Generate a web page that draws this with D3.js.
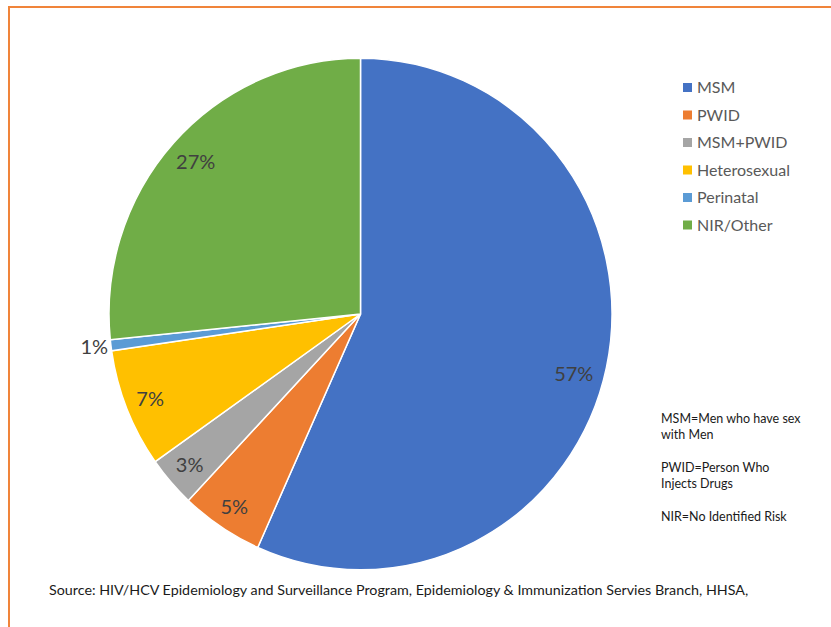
<!DOCTYPE html>
<html>
<head>
<meta charset="utf-8">
<script src="https://cdn.jsdelivr.net/npm/d3@7"></script>
<style>
  body { margin: 0; background: #fff; }
  svg { display: block; font-family: Lato, "Open Sans", sans-serif; }
</style>
</head>
<body>
<div id="chart"></div>
<script>
// Risk categories and their shares (%)
const categories = ['MSM', 'PWID', 'MSM+PWID', 'Heterosexual', 'Perinatal', 'NIR/Other'];
const shares = [56.7, 5.3, 3.2, 7.5, 0.7, 26.6];
const shareLabels = ['57%', '5%', '3%', '7%', '1%', '27%'];
const colors = ['#4472C4', '#ED7D31', '#A5A5A5', '#FFC000', '#5B9BD5', '#70AD47'];
const notes = ['MSM=Men who have sex', 'with Men', '', 'PWID=Person Who', 'Injects Drugs', '', 'NIR=No Identified Risk'];
const sourceText = 'Source: HIV/HCV Epidemiology and Surveillance Program, Epidemiology & Immunization Servies Branch, HHSA,';

const width = 831;
const height = 627;

const svg = d3.select('#chart')
  .append('svg')
  .attr('width', width)
  .attr('height', height);

// Orange frame (only top and left edges are visible)
svg.append('rect')
  .attr('x', 9)
  .attr('y', 7)
  .attr('width', 900)
  .attr('height', 700)
  .attr('fill', 'none')
  .attr('stroke', '#F0843A')
  .attr('stroke-width', 2);

// the picture is slightly stretched vertically
const cx = 360.5, cy = 314, radius = 251.5, yScale = 1.017;

const data = categories.map((c, i) => ({ name: c, value: shares[i], label: shareLabels[i], color: colors[i] }));

const pie = d3.pie().sort(null).value(d => d.value);
const arcs = pie(data);

const arc = d3.arc().innerRadius(0).outerRadius(radius);

const g = svg.append('g')
  .attr('transform', `translate(${cx}, ${cy})`);

g.append('g')
  .attr('transform', `scale(1, ${yScale})`)
  .selectAll('path')
  .data(arcs)
  .enter()
  .append('path')
  .attr('d', arc)
  .attr('fill', d => d.data.color)
  .attr('stroke', '#fff')
  .attr('stroke-width', 1.5)
  .attr('vector-effect', 'non-scaling-stroke');

// Data labels: inside end, except tiny slices which go outside
const labelFont = 20;
const labels = g.selectAll('text.lbl')
  .data(arcs)
  .enter()
  .append('text')
  .attr('class', 'lbl')
  .attr('text-anchor', 'middle')
  .attr('dy', '0.35em')
  .style('font-size', labelFont + 'px')
  .style('fill', '#404040')
  .text(d => d.data.label);

labels.each(function(d) {
  let a = (d.startAngle + d.endAngle) / 2;
  // big slice label sits a bit further round, as Excel's best fit does
  if (d.endAngle - d.startAngle > Math.PI) a += 0.06;
  const ux = Math.sin(a), uy = -Math.cos(a);
  const bb = this.getBBox();
  const hw = bb.width / 2, hh = 8.5;
  const ext = hw * Math.abs(ux) + hh * Math.abs(uy);
  const outside = (d.endAngle - d.startAngle) < 0.05;
  const r = outside ? radius + 2 + ext : radius - 9 - ext;
  d3.select(this).attr('x', r * ux).attr('y', r * uy * yScale);
});

// Legend
const legend = svg.append('g')
  .attr('transform', 'translate(683, 87.5)');

const items = legend.selectAll('g')
  .data(data)
  .enter()
  .append('g')
  .attr('transform', (d, i) => `translate(0, ${i * 27.5})`);

items.append('rect')
  .attr('x', 0)
  .attr('y', -4.5)
  .attr('width', 9)
  .attr('height', 9)
  .attr('fill', d => d.color);

items.append('text')
  .attr('x', 14)
  .attr('y', 0)
  .attr('dy', '0.36em')
  .style('font-size', '16px')
  .style('fill', '#595959')
  .text(d => d.name);

// Abbreviation notes
svg.append('g')
  .selectAll('text')
  .data(notes)
  .enter()
  .append('text')
  .attr('x', 661)
  .attr('y', (d, i) => 423 + i * 16.3)
  .style('font-size', '12.5px')
  .style('fill', '#1a1a1a')
  .text(d => d);

// Source line
svg.append('text')
  .attr('x', 49)
  .attr('y', 595)
  .style('font-size', '14.3px')
  .style('fill', '#1a1a1a')
  .text(sourceText);
</script>
</body>
</html>
